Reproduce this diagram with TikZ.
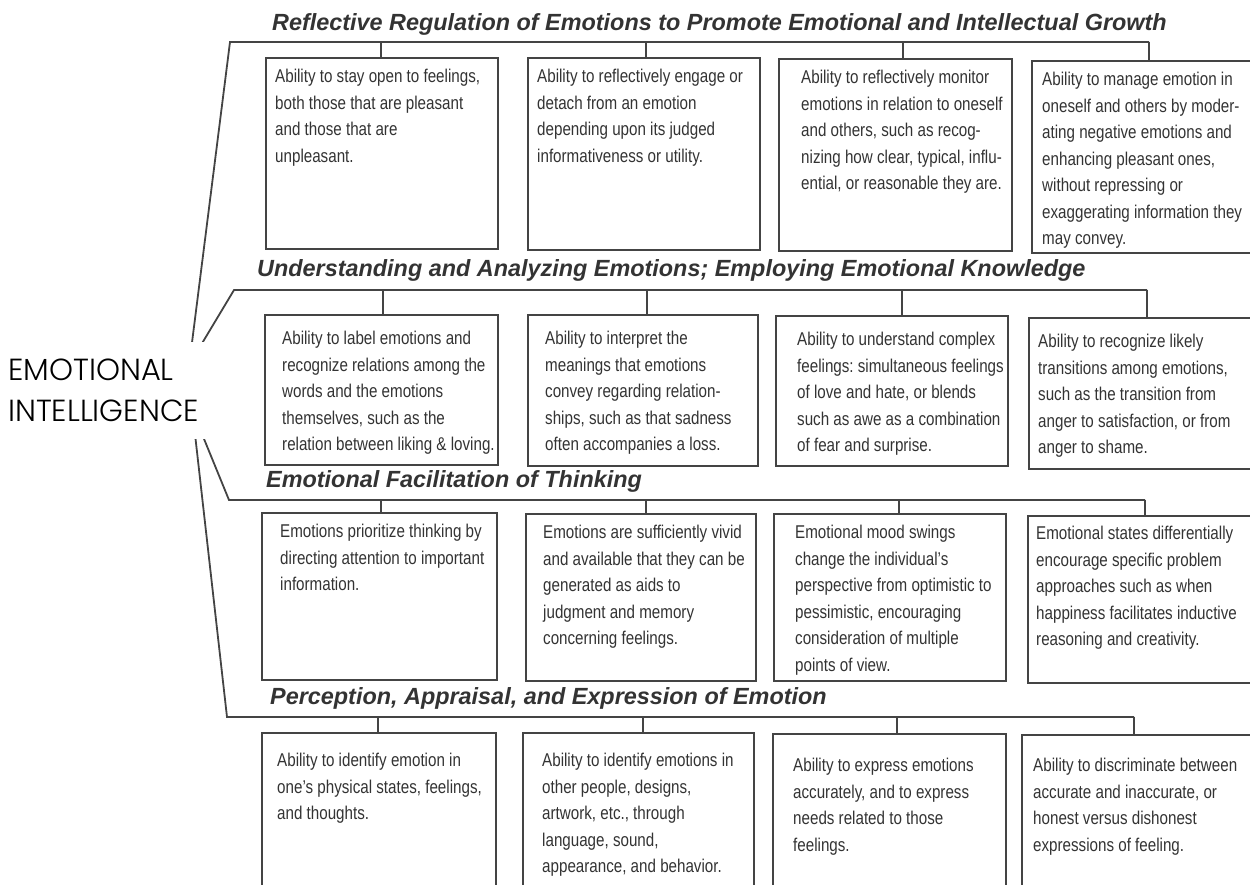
\documentclass[tikz,border=0pt]{standalone}
\usepackage{fontspec}
\setmainfont{Liberation Sans}
\newfontfamily\boxfont[FakeStretch=0.82]{Liberation Sans}
\newfontfamily\titlefont{Liberation Sans}
\newfontfamily\eifont[UprightFont={* Light}]{Poppins}
\usetikzlibrary{backgrounds}
\definecolor{ink}{HTML}{333333}
\definecolor{linec}{HTML}{444444}
\frenchspacing
\tikzset{
  abox/.style={draw=linec, line width=1.8pt, inner sep=0pt, anchor=north west},
  btext/.style={anchor=north west, inner sep=0pt, align=left, text=ink,
    font=\boxfont\frenchspacing\fontsize{18.5}{26.5}\selectfont},
  ttl/.style={anchor=base west, inner sep=0pt, text=ink,
    font=\titlefont\bfseries\itshape\fontsize{23.4}{28}\selectfont},
  conn/.style={draw=linec, line width=1.8pt},
  eilabel/.style={anchor=west, fill=white, inner xsep=8pt, inner ysep=0pt,
    text width=206pt, minimum height=97pt, align=left, text=black,
    font=\eifont\fontsize{30.5}{41}\selectfont},
}
\newcommand{\abx}[5]{\node[abox, minimum width=#4pt-#2pt, minimum height=#5pt-#3pt] (#1) at (#2,#3) {};}
\begin{document}
\begin{tikzpicture}[x=1pt, y=-1pt]
\useasboundingbox (0,0) rectangle (1250,884);
\clip (0,0) rectangle (1250,884);

% ---------- boxes ----------
\abx{b11}{265}{57}{497}{248}
\abx{b12}{527}{57}{759}{249}
\abx{b13}{778}{58}{1011}{250}
\abx{b14}{1031}{60}{1264}{252}
\abx{b21}{264}{314}{497}{464}
\abx{b22}{527}{314}{757}{465}
\abx{b23}{775}{315}{1007}{465}
\abx{b24}{1028}{317}{1264}{468}
\abx{b31}{261}{512}{496}{679}
\abx{b32}{525}{513}{755}{680}
\abx{b33}{773}{513}{1005}{680}
\abx{b34}{1027}{515}{1264}{682}
\abx{b41}{261}{732}{495}{900}
\abx{b42}{522}{732}{753}{900}
\abx{b43}{772}{733}{1005}{900}
\abx{b44}{1021}{734}{1264}{900}

% ---------- titles ----------
\node[ttl] (ttl1) at (272,30) {Reflective Regulation of Emotions to Promote Emotional and Intellectual Growth};
\node[ttl] (ttl2) at (257,276) {Understanding and Analyzing Emotions; Employing Emotional Knowledge};
\node[ttl] (ttl3) at (266,487) {Emotional Facilitation of Thinking};
\node[ttl] (ttl4) at (270,704) {Perception, Appraisal, and Expression of Emotion};

% ---------- box texts ----------
\node[btext] (x11) at (275,69) {Ability to stay open to feelings,\\both those that are pleasant\\and those that are\\unpleasant.};
\node[btext] (x12) at (537,69) {Ability to reflectively engage or\\detach from an emotion\\depending upon its judged\\informativeness or utility.};
\node[btext] (x13) at (801,70) {Ability to reflectively monitor\\emotions in relation to oneself\\and others, such as recog-\\nizing how clear, typical, influ-\\ential, or reasonable they are.};
\node[btext] (x14) at (1042,72) {Ability to manage emotion in\\oneself and others by moder-\\ating negative emotions and\\enhancing pleasant ones,\\without repressing or\\exaggerating information they\\may convey.};

\node[btext] (x21) at (282,331) {Ability to label emotions and\\recognize relations among the\\words and the emotions\\themselves, such as the\\relation between liking \& loving.};
\node[btext] (x22) at (545,331) {Ability to interpret the\\meanings that emotions\\convey regarding relation-\\ships, such as that sadness\\often accompanies a loss.};
\node[btext] (x23) at (797,332) {Ability to understand complex\\feelings: simultaneous feelings\\of love and hate, or blends\\such as awe as a combination\\of fear and surprise.};
\node[btext] (x24) at (1038,334) {Ability to recognize likely\\transitions among emotions,\\such as the transition from\\anger to satisfaction, or from\\anger to shame.};

\node[btext] (x31) at (280,524) {Emotions prioritize thinking by\\directing attention to important\\information.};
\node[btext] (x32) at (543,525) {Emotions are sufficiently vivid\\and available that they can be\\generated as aids to\\judgment and memory\\concerning feelings.};
\node[btext] (x33) at (795,525) {Emotional mood swings\\change the individual’s\\perspective from optimistic to\\pessimistic, encouraging\\consideration of multiple\\points of view.};
\node[btext] (x34) at (1036,526) {Emotional states differentially\\encourage specific problem\\approaches such as when\\happiness facilitates inductive\\reasoning and creativity.};

\node[btext] (x41) at (277,753) {Ability to identify emotion in\\one’s physical states, feelings,\\and thoughts.};
\node[btext] (x42) at (542,753) {Ability to identify emotions in\\other people, designs,\\artwork, etc., through\\language, sound,\\appearance, and behavior.};
\node[btext] (x43) at (793,758) {Ability to express emotions\\accurately, and to express\\needs related to those\\feelings.};
\node[btext] (x44) at (1033,758) {Ability to discriminate between\\accurate and inaccurate, or\\honest versus dishonest\\expressions of feeling.};

% ---------- label ----------
\node[eilabel] (ei) at (0,390) {EMOTIONAL\\INTELLIGENCE};

% ---------- bar coordinates ----------
\coordinate (r1l) at (230,42);  \coordinate (r1a) at (381,42);  \coordinate (r1b) at (646,42);  \coordinate (r1c) at (903,42);  \coordinate (r1d) at (1149,42);
\coordinate (r2l) at (234,290); \coordinate (r2a) at (383,290); \coordinate (r2b) at (647,290); \coordinate (r2c) at (902,290); \coordinate (r2d) at (1147,290);
\coordinate (r3l) at (229,500); \coordinate (r3a) at (381,500); \coordinate (r3b) at (646,500); \coordinate (r3c) at (899,500); \coordinate (r3d) at (1145,500);
\coordinate (r4l) at (227,717); \coordinate (r4a) at (378,717); \coordinate (r4b) at (643,717); \coordinate (r4c) at (897,717); \coordinate (r4d) at (1134,717);
\coordinate (h1) at (186,390); \coordinate (h2) at (174,390); \coordinate (h3) at (184,390); \coordinate (h4) at (190,390);

\begin{pgfonlayer}{background}
\draw[conn] (h1) -- (r1l) -- (r1d);
\draw[conn] (h2) -- (r2l) -- (r2d);
\draw[conn] (h3) -- (r3l) -- (r3d);
\draw[conn] (h4) -- (r4l) -- (r4d);
\end{pgfonlayer}

% ---------- ticks ----------
\draw[conn] (r1a) -- (r1a |- b11.north);
\draw[conn] (r1b) -- (r1b |- b12.north);
\draw[conn] (r1c) -- (r1c |- b13.north);
\draw[conn] (r1d) -- (r1d |- b14.north);
\draw[conn] (r2a) -- (r2a |- b21.north);
\draw[conn] (r2b) -- (r2b |- b22.north);
\draw[conn] (r2c) -- (r2c |- b23.north);
\draw[conn] (r2d) -- (r2d |- b24.north);
\draw[conn] (r3a) -- (r3a |- b31.north);
\draw[conn] (r3b) -- (r3b |- b32.north);
\draw[conn] (r3c) -- (r3c |- b33.north);
\draw[conn] (r3d) -- (r3d |- b34.north);
\draw[conn] (r4a) -- (r4a |- b41.north);
\draw[conn] (r4b) -- (r4b |- b42.north);
\draw[conn] (r4c) -- (r4c |- b43.north);
\draw[conn] (r4d) -- (r4d |- b44.north);
\end{tikzpicture}
\end{document}
